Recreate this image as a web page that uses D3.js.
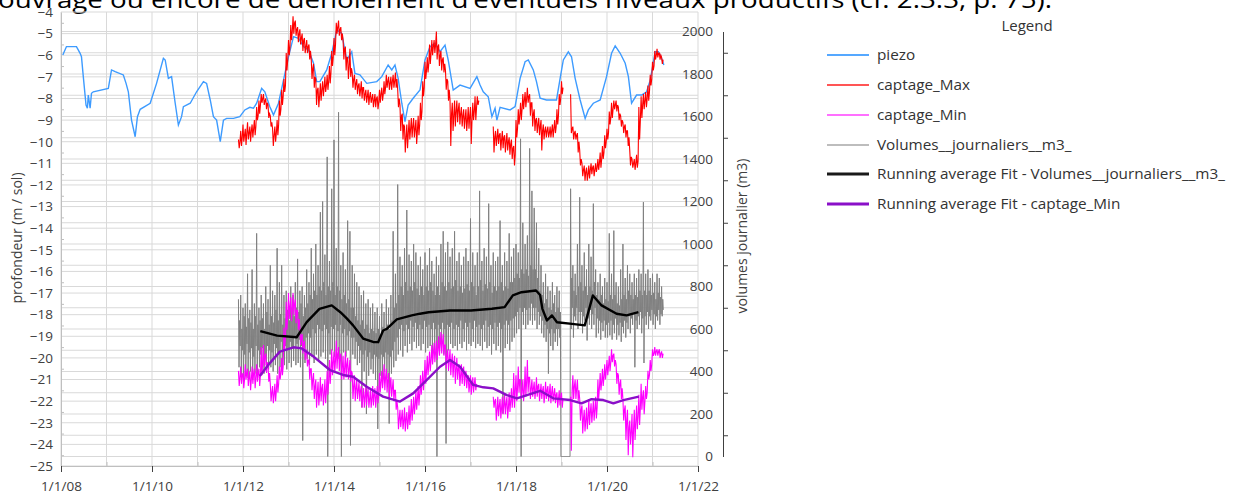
<!DOCTYPE html>
<html>
<head>
<meta charset="utf-8">
<script src="https://cdn.jsdelivr.net/npm/d3@7"></script>
<style>
html, body { margin: 0; padding: 0; background: #fff; }
svg { display: block; }
text { font-family: "Open Sans", "Noto Sans", sans-serif; }
</style>
</head>
<body>
<svg id="chart" width="1234" height="496"></svg>
<script>
// ---------- axis ticks ----------
const xTickYears = [2008, 2010, 2012, 2014, 2016, 2018, 2020, 2022];
const xTickLabels = ["1/1/08", "1/1/10", "1/1/12", "1/1/14", "1/1/16", "1/1/18", "1/1/20", "1/1/22"];
const xMinorYears = [2009, 2011, 2013, 2015, 2017, 2019, 2021];
const depthTicks = [-4, -5, -6, -7, -8, -9, -10, -11, -12, -13, -14, -15, -16, -17, -18, -19, -20, -21, -22, -23, -24, -25];
const volumeTicks = [0, 200, 400, 600, 800, 1000, 1200, 1400, 1600, 1800, 2000];

// ---------- series ----------
// piezometric level (m / sol), [decimal year, value]
const piezo = [[2008.04,-5.99],[2008.12,-5.60],[2008.34,-5.60],[2008.42,-5.91],[2008.45,-6.07],[2008.49,-6.99],[2008.55,-8.30],[2008.58,-8.45],[2008.60,-7.84],[2008.64,-8.45],[2008.67,-7.76],[2008.71,-7.69],[2009.04,-7.53],[2009.11,-6.68],[2009.19,-6.76],[2009.37,-6.91],[2009.43,-7.30],[2009.48,-7.69],[2009.55,-9.00],[2009.63,-9.77],[2009.68,-8.84],[2009.74,-8.50],[2009.96,-8.22],[2010.10,-7.30],[2010.25,-6.14],[2010.29,-6.22],[2010.36,-7.07],[2010.43,-6.99],[2010.51,-8.22],[2010.58,-9.23],[2010.65,-8.84],[2010.69,-8.38],[2010.84,-8.22],[2010.98,-7.69],[2011.13,-7.22],[2011.20,-7.30],[2011.28,-8.07],[2011.35,-8.84],[2011.42,-9.00],[2011.50,-10.00],[2011.57,-9.00],[2011.64,-8.92],[2011.79,-8.92],[2011.93,-8.84],[2012.04,-8.53],[2012.15,-8.41],[2012.23,-8.45],[2012.30,-8.22],[2012.41,-7.53],[2012.48,-7.69],[2012.59,-8.38],[2012.67,-8.76],[2012.78,-8.22],[2012.89,-7.15],[2013.00,-6.07],[2013.11,-5.14],[2013.22,-5.22],[2013.33,-5.60],[2013.44,-5.76],[2013.55,-6.37],[2013.62,-7.22],[2013.69,-7.22],[2013.84,-6.68],[2013.95,-5.91],[2014.06,-4.83],[2014.17,-4.99],[2014.28,-6.22],[2014.39,-5.84],[2014.46,-6.84],[2014.57,-6.91],[2014.72,-7.30],[2014.94,-7.22],[2015.05,-6.99],[2015.19,-6.45],[2015.27,-6.68],[2015.34,-6.45],[2015.41,-7.07],[2015.49,-8.22],[2015.56,-9.07],[2015.63,-8.30],[2015.74,-7.99],[2015.89,-7.61],[2016.00,-6.22],[2016.11,-5.60],[2016.22,-5.45],[2016.33,-5.84],[2016.44,-5.53],[2016.51,-6.22],[2016.62,-7.61],[2016.77,-7.38],[2016.99,-7.53],[2017.14,-6.99],[2017.21,-7.38],[2017.28,-7.69],[2017.39,-7.92],[2017.47,-8.84],[2017.54,-8.45],[2017.58,-9.00],[2017.65,-8.41],[2017.87,-8.53],[2017.98,-8.38],[2018.09,-7.07],[2018.20,-6.30],[2018.27,-6.22],[2018.38,-6.68],[2018.45,-7.22],[2018.53,-7.99],[2018.67,-8.07],[2018.89,-8.07],[2018.97,-7.07],[2019.04,-6.22],[2019.15,-5.84],[2019.22,-6.07],[2019.30,-7.07],[2019.41,-8.07],[2019.52,-8.92],[2019.59,-8.53],[2019.70,-8.22],[2019.85,-8.07],[2019.99,-6.99],[2020.10,-5.91],[2020.18,-5.57],[2020.29,-5.91],[2020.40,-6.37],[2020.47,-6.99],[2020.54,-8.22],[2020.65,-7.84],[2020.76,-7.84],[2020.87,-7.69],[2020.95,-7.15],[2021.06,-5.84],[2021.13,-5.84],[2021.20,-6.14],[2021.25,-6.45]];

// daily series, grouped in 0.05 yr steps from 2011.90; each group lists the readings inside that step
const dailyStart = 2011.90;
const dailyStep = 0.05;

const captageMax = [[-9.9,-10.3,-10.0],[-9.5,-10.2,-9.8],[-9.2,-10.0,-9.7],[-9.4,-10.15,-9.6],[-9.1,-9.9,-9.6],[-9.3,-10.0,-9.5],[-9.2,-9.8,-9.4],[-9.0,-9.7,-9.3],[-8.4,-9.0,-8.8],[-8.1,-8.7,-8.3],
[-7.8,-8.2,-8.0],[-7.8,-8.3,-8.1],[-8.0,-8.5,-8.2],[-8.3,-8.9,-8.7],[-8.8,-9.3,-9.1],[-9.4,-10.2,-9.7],[-9.3,-10.0,-9.6],[-9.0,-9.7,-9.2],[-8.1,-8.8,-8.5],[-7.6,-8.3,-7.9],
[-7.1,-7.7,-7.4],[-5.9,-6.7,-6.2],[-5.3,-6.0,-5.6],[-4.6,-5.3,-4.9],[-4.2,-5.0,-4.5],[-4.4,-5.1,-4.8],[-4.7,-5.4,-5.0],[-4.8,-5.5,-5.2],[-5.0,-5.8,-5.3],[-5.2,-5.9,-5.6],
[-5.3,-5.9,-5.6],[-5.5,-6.2,-5.8],[-6.2,-7.1,-6.6],[-6.4,-7.5,-7.0],[-7.1,-8.3,-7.6],[-7.5,-8.4,-7.9],[-7.3,-8.1,-7.6],[-7.2,-7.9,-7.5],[-7.0,-7.7,-7.4],[-6.9,-7.6,-7.2],
[-6.5,-7.3,-6.8],[-5.8,-6.5,-6.1],[-5.2,-6.0,-5.5],[-4.5,-5.0,-4.7],[-4.4,-5.1,-4.8],[-4.7,-5.3,-5.0],[-5.3,-6.2,-5.7],[-5.6,-6.7,-6.1],[-6.1,-7.1,-6.5],[-5.7,-7.0,-6.6],
[-6.8,-7.5,-7.1],[-6.9,-7.6,-7.3],[-7.1,-7.8,-7.4],[-7.3,-7.9,-7.6],[-7.2,-8.0,-7.5],[-7.5,-8.1,-7.8],[-7.6,-8.2,-7.9],[-7.6,-8.3,-7.9],[-7.7,-8.2,-8.0],[-7.8,-8.4,-8.1],
[-7.8,-8.4,-8.0],[-7.9,-8.5,-8.2],[-7.6,-8.2,-7.8],[-7.5,-8.1,-7.8],[-7.2,-7.8,-7.5],[-6.9,-7.5,-7.2],[-7.0,-7.6,-7.3],[-7.0,-7.6,-7.2],[-6.9,-7.5,-7.2],[-6.8,-7.5,-7.1],
[-7.6,-8.4,-8.0],[-8.3,-9.5,-8.8],[-8.7,-9.9,-9.2],[-9.3,-10.5,-9.8],[-9.2,-10.3,-9.6],[-9.0,-9.9,-9.4],[-8.9,-9.8,-9.3],[-8.9,-9.8,-9.4],[-9.0,-10.1,-9.5],[-8.8,-9.7,-9.2],
[-8.2,-9.0,-8.6],[-7.2,-7.9,-7.5],[-6.3,-7.1,-6.7],[-6.1,-6.8,-6.4],[-5.5,-6.4,-5.9],[-5.3,-6.0,-5.6],[-5.3,-5.9,-5.5],[-4.9,-6.2,-5.6],[-5.5,-6.5,-6.0],[-5.8,-6.7,-6.2],
[-6.1,-6.8,-6.4],[-6.7,-7.6,-7.1],[-7.2,-8.1,-7.6],[-8.1,-10.2,-8.7],[-8.2,-9.5,-8.8],[-8.1,-9.3,-8.6],[-8.1,-9.1,-8.5],[-8.2,-9.2,-8.7],[-8.4,-9.3,-8.8],[-8.5,-9.4,-8.9],
[-8.5,-9.5,-9.0],[-8.4,-9.4,-8.8],[-8.4,-10.1,-9.0],[-8.2,-9.0,-8.6],[-7.9,-9.0,-8.4],[-7.9,-8.3,-8.1],null,null,null,null,
null,null,[-9.3,-10.5,-9.8],[-9.5,-10.2,-9.8],[-9.4,-10.1,-9.7],[-9.6,-10.4,-9.9],[-9.5,-10.3,-9.8],[-9.7,-10.5,-10.0],[-9.6,-10.4,-10.0],[-9.8,-10.6,-10.1],
[-9.9,-10.8,-10.3],[-10.2,-11.1,-10.6],[-9.0,-9.8,-9.4],[-8.5,-9.2,-8.8],[-8.2,-9.0,-8.5],[-7.8,-8.5,-8.1],[-7.7,-8.4,-8.0],[-7.5,-8.2,-7.9],[-7.8,-8.8,-8.2],[-8.2,-9.3,-8.7],
[-8.5,-9.5,-9.0],[-8.9,-9.6,-9.2],[-8.9,-9.7,-9.3],[-9.0,-10.4,-9.5],[-9.2,-9.9,-9.5],[-9.3,-9.8,-9.5],[-9.3,-9.8,-9.6],[-9.3,-9.8,-9.5],[-9.2,-9.8,-9.4],[-9.0,-9.6,-9.3],
[-8.5,-9.2,-8.8],[-7.8,-8.3,-8.0],[-7.2,-7.8,-7.5],null,null,null,[-7.8,-9.6,-9.4],[-9.3,-9.9,-9.6],[-9.5,-9.9,-9.7],[-9.6,-10.5,-10.0],
[-10.4,-11.1,-10.8],[-11.0,-11.6,-11.3],[-11.1,-11.8,-11.4],[-11.2,-11.8,-11.5],[-11.1,-11.7,-11.3],[-11.0,-11.5,-11.2],[-11.1,-11.6,-11.3],[-11.0,-11.4,-11.2],[-10.8,-11.3,-11.0],[-10.5,-11.2,-10.8],
[-10.2,-10.8,-10.5],[-9.7,-10.3,-10.0],[-9.4,-9.9,-9.6],[-8.6,-9.2,-8.9],[-8.2,-8.9,-8.5],[-8.1,-8.5,-8.3],[-8.1,-8.6,-8.3],[-8.4,-9.0,-8.7],[-8.8,-9.3,-9.0],[-9.1,-9.6,-9.3],
[-9.2,-9.8,-9.5],[-9.5,-10.2,-9.8],[-10.4,-11.1,-10.7],[-10.8,-11.2,-11.0],[-10.8,-11.3,-11.0],[-10.6,-11.2,-10.9],[-8.4,-9.9,-9.0],[-7.9,-8.9,-8.3],[-7.8,-8.5,-8.1],[-7.7,-8.4,-8.0],
[-7.4,-8.1,-7.7],[-6.9,-7.4,-7.1],[-6.3,-6.7,-6.5],[-5.8,-6.2,-6.0],[-5.7,-6.1,-5.9],[-5.9,-6.2,-6.0],[-6.1,-6.4,-6.2]];

const captageMin = [[-20.6,-21.3,-20.9],[-20.4,-21.2,-20.8],[-20.7,-21.4,-21.0],[-20.3,-21.0,-20.7],[-20.5,-21.3,-20.9],[-20.6,-21.5,-21.0],[-20.4,-21.2,-20.7],[-20.5,-21.4,-20.9],[-20.3,-21.1,-20.7],[-20.5,-21.3,-20.8],
[-19.5,-20.8,-20.2],[-19.4,-20.4,-19.9],[-19.8,-20.7,-20.2],[-20.3,-21.1,-20.7],[-21.2,-22.0,-21.6],[-21.3,-22.1,-21.7],[-21.2,-22.0,-21.5],[-20.8,-21.6,-21.2],[-20.4,-21.0,-20.7],[-20.0,-20.8,-20.4],
[-18.6,-19.6,-19.1],[-17.4,-18.7,-18.0],[-17.0,-18.2,-17.6],[-17.2,-18.3,-17.7],[-17.0,-18.0,-17.5],[-17.3,-18.4,-17.8],[-17.8,-18.7,-18.2],[-18.6,-19.4,-19.0],[-18.9,-19.8,-19.3],[-19.2,-20.1,-19.6],
[-19.8,-20.4,-20.1],[-20.1,-21.0,-20.5],[-20.5,-21.5,-21.0],[-20.7,-21.9,-21.3],[-21.0,-22.3,-21.6],[-21.1,-22.2,-21.7],[-20.9,-22.0,-21.4],[-21.2,-22.2,-21.7],[-21.0,-22.1,-21.5],[-20.6,-21.7,-21.1],
[-20.1,-21.2,-20.6],[-19.6,-20.8,-20.2],[-19.7,-20.7,-20.1],[-19.2,-20.5,-19.8],[-19.5,-20.6,-20.0],[-19.8,-21.0,-20.4],[-19.9,-21.0,-20.5],[-19.7,-20.9,-20.3],[-20.0,-21.0,-20.5],[-20.1,-21.1,-20.6],
[-20.7,-21.9,-21.3],[-20.8,-22.0,-21.4],[-21.0,-21.9,-21.5],[-21.1,-22.0,-21.5],[-21.3,-22.3,-21.8],[-21.4,-22.3,-21.8],[-21.3,-22.2,-21.7],[-21.4,-22.3,-21.9],[-21.5,-22.3,-21.9],[-21.3,-22.2,-21.7],
[-21.4,-22.3,-21.8],[-21.3,-22.1,-21.7],[-20.7,-21.6,-21.1],[-20.6,-21.4,-21.0],[-20.3,-21.5,-20.9],[-20.5,-21.6,-21.0],[-20.7,-21.9,-21.3],[-20.9,-21.8,-21.4],[-21.0,-22.0,-21.5],[-21.5,-22.4,-22.0],
[-22.3,-23.3,-22.8],[-22.4,-23.2,-22.8],[-22.4,-23.3,-22.9],[-22.3,-23.4,-22.8],[-22.5,-23.3,-22.9],[-22.2,-23.1,-22.6],[-21.9,-22.9,-22.4],[-21.8,-22.6,-22.2],[-21.5,-22.4,-21.9],[-21.3,-22.2,-21.7],
[-20.8,-21.7,-21.2],[-20.6,-21.5,-21.0],[-20.1,-21.2,-20.6],[-19.9,-20.8,-20.3],[-19.7,-20.6,-20.1],[-19.4,-20.3,-19.8],[-19.3,-20.2,-19.7],[-19.2,-20.1,-19.6],[-19.0,-19.9,-19.4],[-18.8,-19.8,-19.3],
[-18.9,-19.9,-19.4],[-19.4,-20.5,-19.9],[-19.6,-20.6,-20.1],[-19.6,-20.8,-20.2],[-19.8,-20.9,-20.3],[-19.9,-21.2,-20.5],[-20.0,-21.0,-20.5],[-20.3,-21.3,-20.8],[-20.3,-21.2,-20.7],[-20.4,-21.3,-20.8],
[-20.6,-21.4,-21.0],[-20.8,-21.6,-21.2],[-20.8,-21.7,-21.2],[-20.9,-21.6,-21.2],[-20.9,-21.5,-21.2],null,null,null,null,null,
null,null,[-21.8,-22.3,-22.0],[-21.9,-22.9,-22.4],[-21.8,-22.7,-22.2],[-21.9,-22.8,-22.3],[-21.8,-22.6,-22.2],[-21.7,-22.6,-22.1],[-21.8,-22.8,-22.3],[-21.6,-22.5,-22.0],
[-21.4,-22.3,-21.8],[-20.7,-22.3,-21.5],[-20.8,-22.0,-21.4],[-20.4,-21.6,-21.0],[-21.0,-21.9,-21.5],[-21.0,-22.0,-21.5],[-20.4,-21.8,-21.1],[-20.1,-21.6,-20.9],[-20.9,-21.9,-21.4],[-21.0,-21.8,-21.4],
[-21.1,-21.9,-21.5],[-20.9,-21.8,-21.3],[-21.2,-22.0,-21.6],[-21.2,-21.9,-21.5],[-21.3,-22.1,-21.7],[-21.1,-21.9,-21.5],[-21.3,-22.0,-21.6],[-21.2,-22.1,-21.6],[-21.3,-22.0,-21.7],[-21.4,-22.1,-21.7],
[-21.6,-22.3,-21.9],[-21.5,-22.2,-21.8],[-21.6,-22.3,-21.9],null,null,null,[-21.8,-24.3,-21.5],[-20.8,-21.9,-21.3],[-21.0,-21.9,-21.4],[-21.0,-22.0,-21.5],
[-21.9,-22.9,-22.4],[-22.2,-23.5,-22.8],[-22.4,-23.4,-22.9],[-22.3,-23.3,-22.8],[-21.9,-23.1,-22.5],[-22.1,-23.0,-22.5],[-22.0,-22.9,-22.4],[-21.8,-22.8,-22.3],[-21.0,-21.9,-21.4],[-20.7,-21.5,-21.1],
[-20.5,-21.3,-20.9],[-20.3,-21.0,-20.6],[-20.1,-20.8,-20.4],[-19.9,-20.6,-20.2],[-19.6,-20.2,-19.9],[-19.8,-20.4,-20.1],[-20.3,-21.2,-20.7],[-20.8,-21.7,-21.2],[-21.0,-21.9,-21.4],[-21.9,-22.9,-22.4],
[-22.2,-23.8,-22.9],[-22.4,-24.5,-23.2],[-22.9,-24.0,-23.4],[-22.6,-24.6,-23.3],[-22.4,-23.8,-23.0],[-22.2,-23.3,-22.7],[-21.7,-23.1,-22.3],[-21.2,-22.4,-21.8],[-21.5,-22.6,-22.0],[-21.3,-21.9,-21.6],
[-20.6,-21.0,-20.8],[-20.1,-20.6,-20.3],[-19.6,-19.9,-19.8],[-19.5,-19.9,-19.7],[-19.6,-19.9,-19.7],[-19.6,-20.0,-19.8],[-19.7,-20.0,-19.8]];

// daily pumped volumes (m3)
const volumes = [[740,420,640,520],[760,380,600,500],[700,350,660,480],[720,390,610,530],[860,370,650,490],[690,400,630,510],[880,360,600,470],[720,390,660,520],[1050,380,620,500],[700,420,640,480],
[760,400,650,510],[720,390,600,480],[800,430,680,520],[740,410,620,500],[900,420,660,490],[780,400,630,530],[760,430,690,510],[980,390,640,480],[820,420,670,540],[900,400,620,500],
[760,430,650,520],[780,410,690,500],[740,440,640,540],[800,420,700,510],[760,450,660,560],[820,430,700,530],[930,440,680,550],[780,420,720,520],[800,75,660,540],[760,440,700,560],
[880,460,720,580],[820,430,760,560],[980,470,740,600],[860,440,780,580],[1000,480,760,620],[900,450,800,600],[1150,470,780,590],[1200,490,820,620],[950,460,760,600],[1410,0,800,580],
[920,480,780,610],[1260,500,820,600],[1490,470,760,620],[980,500,800,590],[1620,460,780,620],[900,0,740,580],[960,490,760,600],[880,470,720,570],[1110,500,740,590],[1060,52,700,560],
[900,480,700,560],[860,460,660,540],[820,430,640,520],[800,440,620,500],[760,231,640,480],[780,400,600,500],[720,200,620,470],[740,380,580,490],[700,410,600,460],[720,390,590,480],
[680,360,580,470],[700,130,600,460],[660,380,570,480],[720,360,610,470],[680,400,590,490],[740,370,620,480],[700,155,600,470],[760,390,640,500],[1060,420,700,540],[860,450,720,560],
[1280,480,760,600],[940,500,800,620],[900,470,760,590],[980,520,820,620],[1160,490,780,600],[950,530,800,640],[920,500,780,610],[1000,540,820,630],[960,510,790,600],[900,520,760,620],
[940,500,800,600],[880,530,760,640],[960,490,800,610],[900,510,780,620],[980,520,820,600],[920,480,780,630],[860,500,760,600],[940,0,800,620],[900,510,760,600],[1000,520,820,630],
[1060,480,800,600],[960,61,780,620],[1010,500,820,610],[940,530,790,630],[980,510,800,600],[1060,520,830,620],[920,500,780,610],[960,530,800,640],[900,510,770,600],[940,540,790,630],
[980,500,810,610],[920,530,780,630],[1120,520,820,600],[960,540,800,640],[900,510,760,610],[960,530,800,620],[1250,520,830,600],[920,500,780,620],[980,540,810,640],[940,510,790,610],
[1190,520,820,620],[900,480,770,600],[960,530,800,630],[920,500,780,610],[940,520,800,630],[1110,490,820,600],[900,202,780,620],[960,510,800,640],[920,530,790,620],[1050,500,820,640],
[940,540,820,650],[980,560,840,660],[1000,580,860,680],[960,600,840,700],[1495,0,880,680],[1100,620,860,700],[1000,600,880,690],[1040,620,850,700],[1450,640,900,720],[1250,620,880,700],
[1170,640,880,700],[1100,600,840,680],[980,620,780,660],[900,580,760,640],[820,560,720,620],[860,540,740,600],[800,390,700,580],[780,520,690,600],[820,500,720,580],[760,540,680,600],
[800,520,700,600],[780,560,680,0],[0,0,0,0],[0,0,0,0],[0,0,0,0],[0,0,0,0],[1260,600,840,700],[900,560,780,660],[860,640,760,700],[1000,600,800,680],
[1220,620,820,680],[900,580,780,660],[960,640,800,700],[880,546,760,650],[1000,620,800,690],[940,600,780,670],[1190,620,820,700],[880,560,760,650],[820,580,740,640],[860,550,760,630],
[800,590,720,640],[840,560,740,620],[820,560,730,630],[1050,570,760,640],[860,550,740,620],[1063,580,760,650],[820,550,720,620],[800,570,710,630],[880,540,740,610],[1000,580,760,640],
[840,560,740,630],[900,600,780,660],[860,580,760,650],[820,620,740,670],[860,420,760,640],[840,600,750,660],[880,620,780,680],[860,580,760,650],[1197,440,780,660],[860,620,760,680],
[880,600,780,660],[840,640,760,690],[860,620,770,670],[820,600,740,660],[860,640,770,690],[840,620,750,670],[800,660,740,690]];

// running averages
const avgVolumes = [[2012.38,590],[2012.75,569],[2013.18,561],[2013.40,632],[2013.68,695],[2013.95,711],[2014.14,679],[2014.28,650],[2014.42,617],[2014.64,555],[2014.86,539],[2014.97,538],[2015.08,593],[2015.16,601],[2015.38,645],[2015.71,664],[2015.89,672],[2016.08,679],[2016.55,687],[2017.01,687],[2017.47,695],[2017.75,703],[2017.93,758],[2018.12,773],[2018.44,781],[2018.53,760],[2018.58,695],[2018.68,640],[2018.79,664],[2018.90,632],[2019.23,624],[2019.51,617],[2019.69,758],[2019.88,711],[2020.21,672],[2020.43,664],[2020.69,679]];
const avgCaptageMin = [[2012.37,-20.84],[2012.59,-20.24],[2012.81,-19.71],[2013.11,-19.51],[2013.29,-19.56],[2013.55,-19.94],[2013.91,-20.56],[2014.20,-20.79],[2014.42,-20.87],[2014.72,-21.33],[2015.08,-21.79],[2015.45,-22.02],[2015.74,-21.64],[2016.04,-21.02],[2016.33,-20.41],[2016.55,-20.10],[2016.77,-20.41],[2017.06,-21.25],[2017.28,-21.36],[2017.50,-21.41],[2017.80,-21.72],[2018.02,-21.87],[2018.24,-21.72],[2018.53,-21.52],[2018.82,-21.87],[2019.19,-21.95],[2019.44,-22.10],[2019.66,-21.91],[2019.92,-21.95],[2020.14,-22.10],[2020.36,-21.95],[2020.70,-21.79]];

const legendNames = ["piezo", "captage_Max", "captage_Min", "Volumes__journaliers__m3_", "Running average Fit - Volumes__journaliers__m3_", "Running average Fit - captage_Min"];
const legendColors = ["#55a8ff", "#ff5555", "#ff70ff", "#bdbdbd", "#1a1a1a", "#8a0fc8"];
const legendWidths = [2, 2, 2, 2, 3, 3];

// ---------- scales ----------
const svg = d3.select("#chart");
const x = d3.scaleLinear().domain([2008, 2022]).range([61, 698]);
const yL = d3.scaleLinear().domain([-25, -4]).range([466, 12]);
const yR = d3.scaleLinear().domain([0, 2000]).range([456.5, 31.5]);
const textColor = "#404040";

svg.append("rect").attr("width", 1234).attr("height", 496).attr("fill", "#fff");

// heading line of the surrounding page, cut at the top edge
svg.append("text")
  .attr("x", -2).attr("y", 8)
  .attr("font-family", "Liberation Sans, Arial, sans-serif")
  .attr("font-size", 24).attr("fill", "#000")
  .attr("textLength", 1054).attr("lengthAdjust", "spacingAndGlyphs")
  .text("ouvrage ou encore de dénoiement d’éventuels niveaux productifs (cf. 2.3.3, p. 75).");

// ---------- grid ----------
const grid = svg.append("g").attr("stroke", "#d9d9d9").attr("stroke-width", 1);
grid.selectAll("line.v").data(d3.range(2008, 2023)).join("line")
  .attr("x1", d => x(d)).attr("x2", d => x(d)).attr("y1", yL(-4)).attr("y2", yL(-25));
grid.selectAll("line.hl").data(depthTicks).join("line")
  .attr("x1", x(2008)).attr("x2", x(2022)).attr("y1", d => yL(d)).attr("y2", d => yL(d));
grid.selectAll("line.hr").data(d3.range(0, 2001, 100)).join("line")
  .attr("x1", x(2008)).attr("x2", x(2022)).attr("y1", d => yR(d)).attr("y2", d => yR(d));

// ---------- series ----------
// spread the readings of each step evenly across it; null marks a gap in the record
function expandDaily(groups) {
  const pts = [];
  groups.forEach((g, i) => {
    const t = dailyStart + i * dailyStep;
    if (g === null) { pts.push(null); return; }
    g.forEach((v, k) => pts.push([t + k * dailyStep / g.length, v]));
  });
  return pts;
}
const lineL = d3.line().defined(d => d !== null).x(d => x(d[0])).y(d => yL(d[1]));
const lineR = d3.line().defined(d => d !== null).x(d => x(d[0])).y(d => yR(d[1]));

svg.append("path").datum(expandDaily(volumes)).attr("d", lineR)
  .attr("fill", "none").attr("stroke", "#808080").attr("stroke-width", 1);
svg.append("path").datum(piezo).attr("d", lineL)
  .attr("fill", "none").attr("stroke", "#3d9bff").attr("stroke-width", 1.4);
svg.append("path").datum(expandDaily(captageMax)).attr("d", lineL)
  .attr("fill", "none").attr("stroke", "#ff0000").attr("stroke-width", 1.1);
svg.append("path").datum(expandDaily(captageMin)).attr("d", lineL)
  .attr("fill", "none").attr("stroke", "#ff00ff").attr("stroke-width", 1.1);
svg.append("path").datum(avgVolumes).attr("d", lineR)
  .attr("fill", "none").attr("stroke", "#000").attr("stroke-width", 2.4).attr("stroke-linejoin", "round");
svg.append("path").datum(avgCaptageMin).attr("d", lineL)
  .attr("fill", "none").attr("stroke", "#8a0fc8").attr("stroke-width", 2.4).attr("stroke-linejoin", "round");

// ---------- axes ----------
function styleAxis(size) {
  return g => g.selectAll("text").attr("fill", textColor).attr("font-size", size);
}
// left depth axis
svg.append("g").attr("transform", `translate(${x(2008)},0)`)
  .call(d3.axisLeft(yL).tickValues(depthTicks).tickSize(0).tickPadding(8))
  .call(g => g.select(".domain").attr("stroke", "#bfbfbf"))
  .call(styleAxis(13.5));
svg.append("g").attr("transform", `translate(${x(2008)},0)`)
  .call(d3.axisRight(yL).tickValues(d3.range(-4.5, -25, -1)).tickSize(3).tickFormat(""))
  .call(g => g.select(".domain").remove())
  .call(g => g.selectAll("line").attr("stroke", "#bfbfbf"));

// bottom date axis
svg.append("g").attr("transform", `translate(0,${yL(-25)})`)
  .call(d3.axisBottom(x).tickValues(xTickYears).tickFormat((d, i) => xTickLabels[i]).tickSizeInner(6).tickSizeOuter(0).tickPadding(9))
  .call(g => g.select(".domain").attr("stroke", "#bfbfbf"))
  .call(g => g.selectAll(".tick line").attr("stroke", "#404040"))
  .call(styleAxis(13.5));
svg.append("g").attr("transform", `translate(0,${yL(-25)})`)
  .call(d3.axisTop(x).tickValues(xMinorYears).tickSize(4).tickFormat(""))
  .call(g => g.select(".domain").remove())
  .call(g => g.selectAll("line").attr("stroke", "#bfbfbf"));

// right volume axis: labels sit left of the axis line
svg.append("g").attr("transform", "translate(720,0)")
  .call(d3.axisLeft(yR).tickValues(volumeTicks).tickFormat(d3.format("d")).tickSize(0).tickPadding(7))
  .call(g => g.select(".domain").remove())
  .call(styleAxis(13.5));
svg.append("g").attr("transform", "translate(723,0)")
  .call(d3.axisRight(yR).tickValues(d3.range(100, 2000, 200)).tickSizeInner(5).tickSizeOuter(0).tickFormat(""))
  .call(g => g.select(".domain").attr("stroke", "#404040"))
  .call(g => g.selectAll("line").attr("stroke", "#404040"));

// axis titles
svg.append("text").attr("transform", "translate(22,238) rotate(-90)")
  .attr("text-anchor", "middle").attr("font-size", 14).attr("fill", textColor)
  .text("profondeur (m / sol)");
svg.append("text").attr("transform", "translate(747,236) rotate(-90)")
  .attr("text-anchor", "middle").attr("font-size", 14).attr("fill", textColor)
  .text("volumes journalier (m3)");

// ---------- legend ----------
const legend = svg.append("g");
legend.append("text").attr("x", 1027).attr("y", 31).attr("text-anchor", "middle")
  .attr("font-size", 15).attr("fill", "#333").text("Legend");
const rowY = [55, 85, 115, 145, 174, 204];
const items = legend.selectAll("g.item").data(legendNames).join("g")
  .attr("transform", (d, i) => `translate(0,${rowY[i]})`);
items.append("line").attr("x1", 827).attr("x2", 869).attr("y1", 0).attr("y2", 0)
  .attr("stroke", (d, i) => legendColors[i]).attr("stroke-width", (d, i) => legendWidths[i]);
items.append("text").attr("x", 877).attr("y", 5).attr("font-size", 15.3).attr("fill", "#333")
  .text(d => d);
</script>
</body>
</html>
